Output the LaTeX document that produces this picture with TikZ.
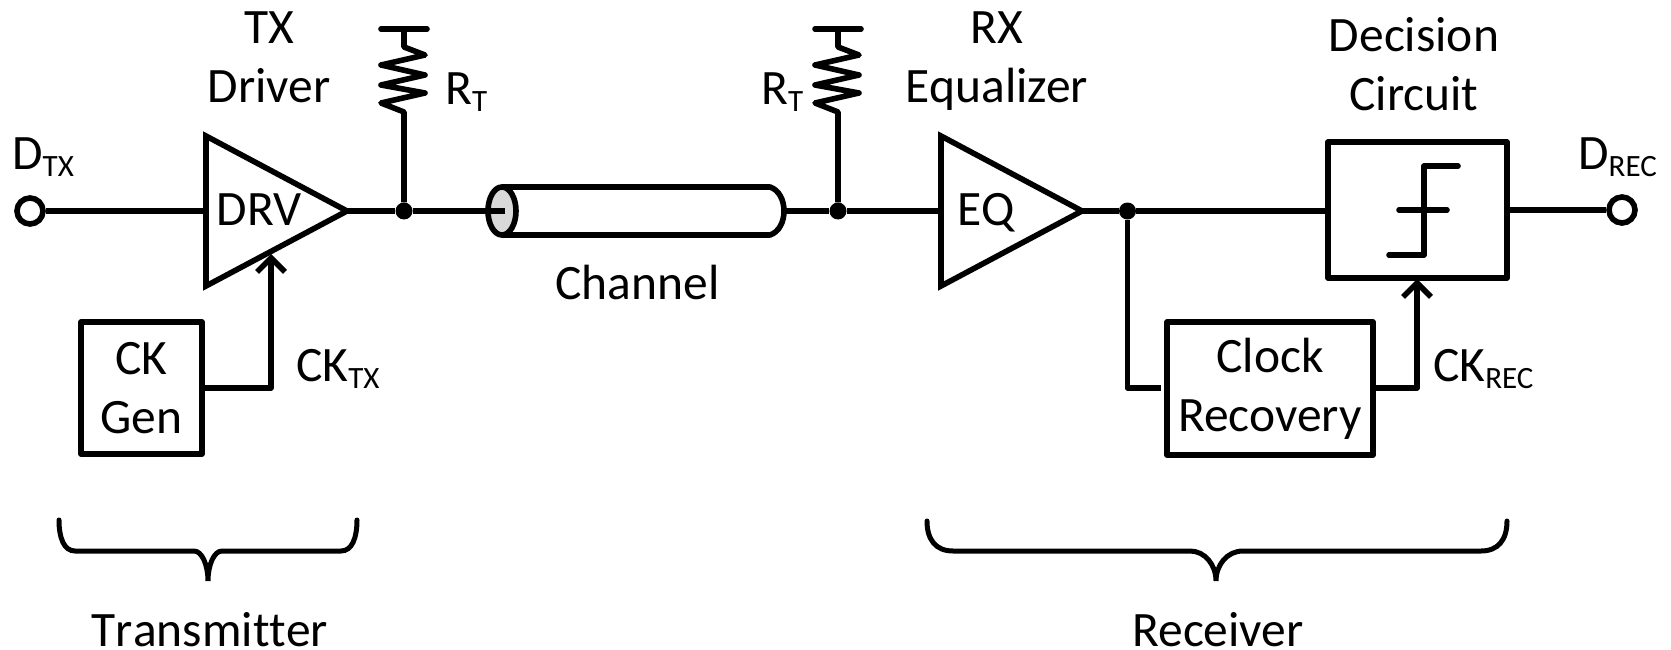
\documentclass[tikz,border=0pt]{standalone}
\usepackage{fontspec}
\setmainfont{Carlito}[Ligatures=NoCommon]
\usetikzlibrary{arrows.meta}
\newcommand{\sbs}[1]{\raisebox{-7pt}{\fontsize{31}{31}\selectfont #1}}
\tikzset{
  x=1pt,y=-1pt,
  wire/.style={line width=5.6pt,line join=round},
  arrowwire/.style={wire,-{Straight Barb[length=14pt,width=28pt,line width=5.5pt]}},
  thin wire/.style={line width=5pt,line cap=round},
  blockbox/.style={draw,line width=5.6pt,rectangle,inner sep=0pt,align=center,font=\fontsize{49.5}{59}\selectfont,line join=round},
  lbl/.style={inner sep=0pt,anchor=base,align=center,font=\fontsize{49.5}{59}\selectfont},
  lblw/.style={inner sep=0pt,anchor=base west,font=\fontsize{49.5}{59}\selectfont},
  dot/.style={circle,fill=black,inner sep=0pt,minimum size=17pt},
  terminal/.style={circle,draw,fill=white,line width=5.6pt,inner sep=0pt,minimum size=26pt},
}
\begin{document}
\begin{tikzpicture}
\useasboundingbox (0,0) rectangle (1671,650);
% coordinates
\coordinate (drvin) at (206,211);
\coordinate (drvout) at (347,211);
\coordinate (eqin) at (941,211);
\coordinate (eqout) at (1082,211);
\coordinate (cylin) at (505,211);
\coordinate (cylout) at (784,211);
\coordinate (drvck) at (271,254);
\node[dot] (j1) at (404,211) {};
\node[dot] (j2) at (838,211) {};
\node[dot] (j3) at (1127.5,211) {};
\coordinate (r1bot) at (404,112);
\coordinate (r1top) at (404,29);
\coordinate (r2bot) at (838,112);
\coordinate (r2top) at (838,29);
% channel
\draw[wire] (502,187) -- (770,187) .. controls (779,190) and (784,200) .. (cylout) .. controls (784,222) and (779,232) .. (770,235) -- (502,235);
\draw[wire,fill=black!15] (502,211) ellipse [x radius=14,y radius=24];
% triangles
\draw[line width=5.6pt] (206,136) -- (drvout) -- (206,286) -- cycle;
\draw[line width=5.6pt] (941,136) -- (eqout) -- (941,286) -- cycle;
% blocks
\node[blockbox,minimum width=121pt,minimum height=132pt] (ck) at (141.5,388) {CK\\Gen};
\node[blockbox,minimum width=206pt,minimum height=133pt] (cr) at (1270,388.5) {Clock\\Recovery};
\node[blockbox,minimum width=179pt,minimum height=136pt] (dc) at (1417.5,210) {};
% step symbol
\coordinate (s1) at (1389,255);
\coordinate (s2) at (1424,255);
\coordinate (s3) at (1424,166);
\coordinate (s4) at (1458,166);
\coordinate (s5) at (1399,210);
\coordinate (s6) at (1447,210);
\draw[wire,line cap=round] (s1) -- (s2) -- (s3) -- (s4);
\draw[wire,line cap=round] (s5) -- (s6);
% terminals
\node[terminal] (dtx) at (30,211) {};
\node[terminal] (drec) at (1622,210) {};
% wires
\draw[wire] (dtx) -- (drvin);
\draw[wire] (drvout) -- (j1) -- (cylin);
\draw[wire] (cylout) -- (j2) -- (eqin);
\draw[wire] (eqout) -- (j3) -- (j3 -| dc.west);
\draw[wire] (drec -| dc.east) -- (drec);
\draw[arrowwire] (ck.east) -| (drvck);
\coordinate (crin) at (1161,388);
\draw[wire] (j3) |- (crin);
\coordinate (dcck) at (1417,279);
\coordinate (crout) at (1373,388);
\draw[arrowwire] (crout) -| (dcck);
% resistors
\draw[wire] (j1) -- (r1bot) -- (381,103) -- (425,93) -- (381,85) -- (425,75) -- (381,65) -- (425,55) -- (404,47) -- (r1top);
\draw[wire,line cap=round] (381,29) -- (r1top) -- (427,29);
\draw[wire] (j2) -- (r2bot) -- (815,103) -- (859,93) -- (815,85) -- (859,75) -- (815,65) -- (859,55) -- (838,47) -- (r2top);
\draw[wire,line cap=round] (815,29) -- (r2top) -- (861,29);
% braces
\coordinate (b1a) at (59,520);
\coordinate (b1b) at (357,520);
\coordinate (b1t) at (208,581);
\draw[thin wire] (b1a) .. controls (59,538) and (64,551) .. (75,551) -- (194,551) .. controls (202,551) and (208,565) .. (b1t) .. controls (208,565) and (214,551) .. (222,551) -- (341,551) .. controls (352,551) and (357,538) .. (b1b);
\coordinate (b2a) at (927,521);
\coordinate (b2b) at (1507,521);
\coordinate (b2t) at (1216,581);
\draw[thin wire] (b2a) .. controls (927,540) and (936,551) .. (953,551) -- (1190,551) .. controls (1205,551) and (1216,565) .. (b2t) .. controls (1216,565) and (1227,551) .. (1243,551) -- (1481,551) .. controls (1498,551) and (1507,540) .. (b2b);
% labels
\node[lbl] (txl) at (269,103) {TX\\Driver};
\node[lbl] (rxl) at (997,103) {RX\\Equalizer};
\node[lbl] (dcl) at (1414,111) {Decision\\Circuit};
\node[lbl] (drv) at (259,225) {DRV};
\node[lbl] (eq) at (986,225) {EQ};
\node[lbl] (chan) at (637.5,299) {Channel};
\node[lbl] (tr) at (210,646) {\addfontfeature{Kerning=Off}Transmitter};
\node[lbl] (re) at (1218,646) {Receiver};
\node[lblw] (dtxl) at (12,169) {D\sbs{TX}};
\node[lblw] (drecl) at (1578,169) {D\sbs{REC}};
\node[lblw] (rt1) at (445,105) {R\sbs{T}};
\node[lblw] (rt2) at (761,105) {R\sbs{T}};
\node[lblw] (cktx) at (296,381) {CK\sbs{TX}};
\node[lblw] (ckrec) at (1433,381) {CK\sbs{REC}};
\end{tikzpicture}
\end{document}
